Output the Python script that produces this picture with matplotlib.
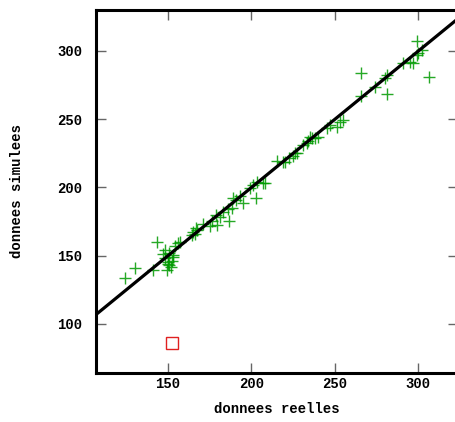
import matplotlib
matplotlib.use("Agg")
import matplotlib.pyplot as plt
import numpy as np

# observed (reelles) vs simulated (simulees) values
reelles = [124.3, 130.2, 143.6, 140.8, 148.2, 147.2, 148.2, 150.2, 150.8, 149.2,
           151.8, 153.2, 154.2, 157.2, 156.2, 164.2, 166.2, 164.8, 167.5, 166.6,
           171.1, 175.1, 176.2, 179.2, 178.7, 181.1, 183.1, 186.7, 186.1, 188.1,
           189.1, 190.7, 194.7, 193.1, 202.7, 199.1, 203.5, 201.1, 207.1, 208.1,
           215.1, 219.0, 220.1, 222.6, 225.0, 227.1, 226.0, 231.0, 233.0, 234.0,
           235.0, 236.0, 238.0, 240.0, 245.0, 247.0, 251.0, 253.0, 255.0, 265.6,
           265.6, 274.0, 280.0, 281.0, 281.0, 290.9, 294.9, 296.5, 298.9, 299.9,
           301.9, 298.9, 306.5, 150.5, 152.5, 149.8, 153.0]
simulees = [133.5, 141.3, 159.9, 139.6, 154.2, 151.1, 148.1, 145.7, 143.2, 139.6,
            142.0, 149.3, 157.4, 160.3, 159.2, 165.2, 165.7, 167.6, 168.9, 170.1,
            173.3, 171.8, 175.7, 172.5, 179.9, 178.6, 182.3, 175.7, 184.0, 184.8,
            192.1, 190.8, 188.4, 193.8, 192.1, 199.4, 204.3, 201.8, 203.6, 203.6,
            219.4, 218.9, 218.9, 221.4, 223.1, 225.1, 225.5, 231.1, 232.4, 234.3,
            236.8, 236.0, 236.0, 237.2, 243.4, 245.8, 244.6, 248.2, 249.5, 284.1,
            267.0, 273.9, 280.0, 282.4, 268.5, 291.0, 292.2, 291.5, 297.1, 298.3,
            300.7, 307.5, 281.2, 152.0, 146.5, 144.0, 150.5]

outlier_x = [152.2]
outlier_y = [85.9]

xlim = (106.9, 323.7)
ylim = (64.1, 330.0)
xticks = [150, 200, 250, 300]
yticks = [100, 150, 200, 250, 300]

font = {"family": "Liberation Mono", "weight": "bold", "size": 10}

fig = plt.figure(figsize=(4.56, 4.22), dpi=100)
ax = fig.add_axes([96 / 456, 49 / 422, 362 / 456, 363 / 422])

ax.plot(reelles, simulees, linestyle="none", marker="+", markersize=9,
        markeredgewidth=1.0, color="#009a00", alpha=0.85)
ax.plot(outlier_x, outlier_y, linestyle="none", marker="s", markersize=9,
        markerfacecolor="none", markeredgecolor="#e02020", markeredgewidth=1.0)

# identity line y = x
ax.plot(xlim, xlim, color="black", linewidth=2.3, solid_capstyle="butt")

ax.set_xlim(*xlim)
ax.set_ylim(*ylim)
ax.set_xticks(xticks)
ax.set_yticks(yticks)
ax.set_xticklabels([str(t) for t in xticks], fontdict=font)
ax.set_yticklabels([str(t) for t in yticks], fontdict=font)
ax.tick_params(direction="in", length=7, width=1, color="#666666",
               top=True, right=True)
ax.tick_params(axis="x", pad=3)
ax.tick_params(axis="y", pad=10)

for side in ("left", "bottom", "top"):
    ax.spines[side].set_linewidth(2.2)
ax.spines["right"].set_visible(False)

ax.set_xlabel("donnees reelles", fontdict=font, labelpad=8)
ax.set_ylabel("donnees simulees", fontdict=font, labelpad=24)

fig.savefig("out.png", dpi=100)
